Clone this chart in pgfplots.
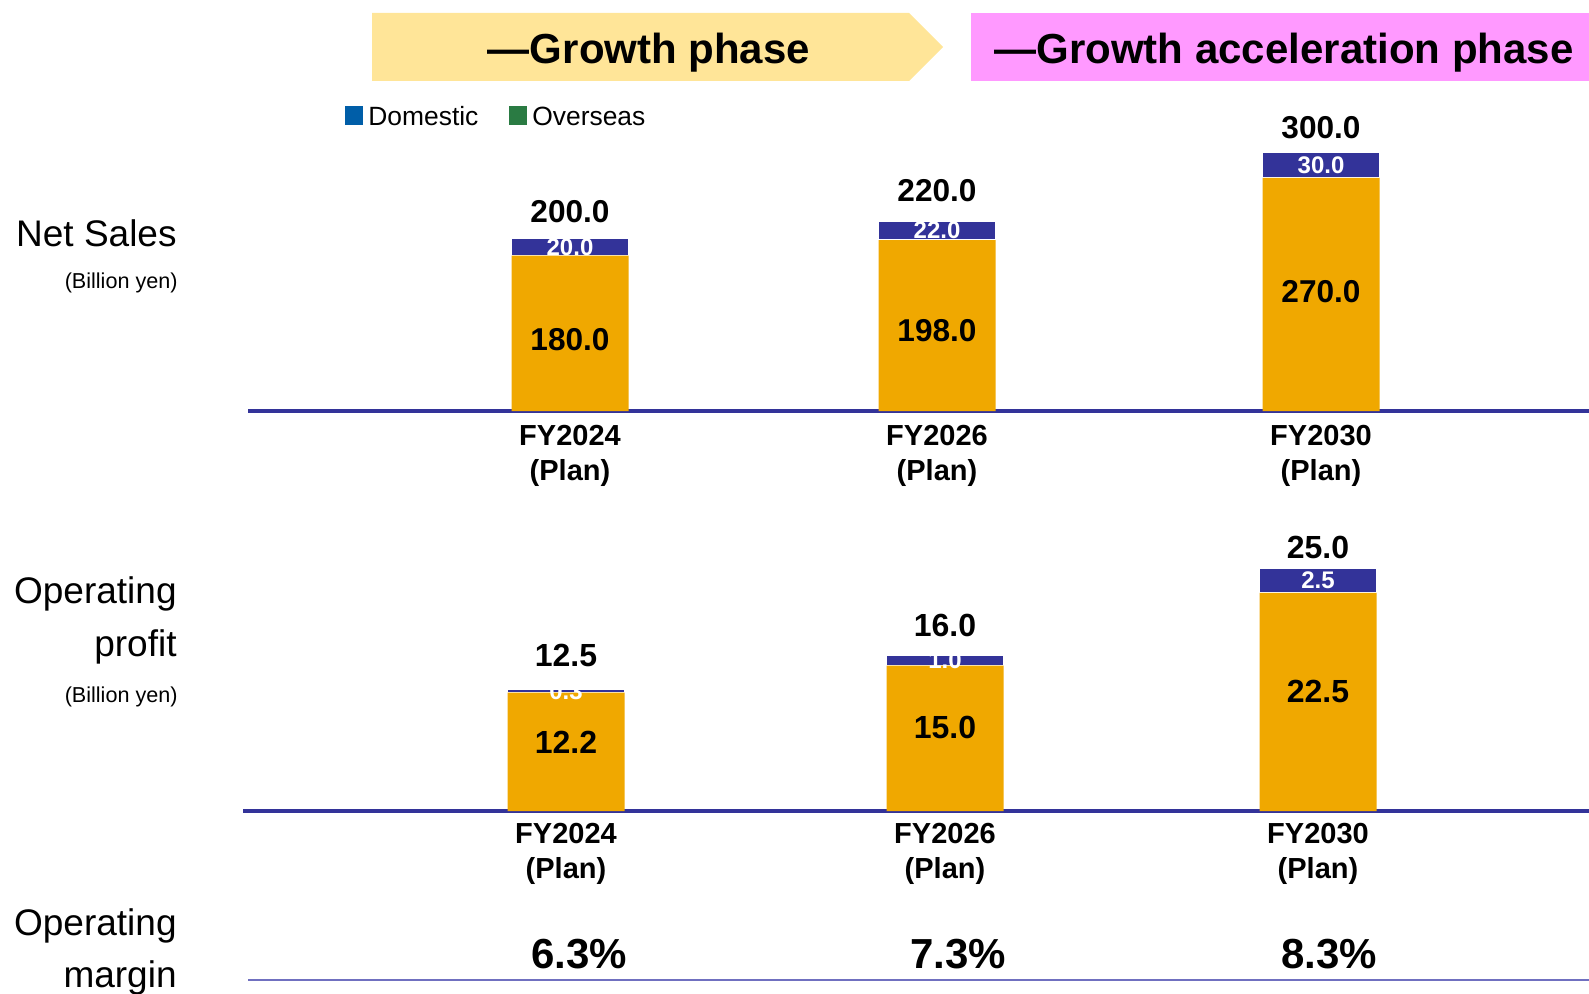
\documentclass[border=0pt]{standalone}
\usepackage{pgfplots}
\usepackage{pgfplotstable}
\pgfplotsset{compat=1.18}
\usepackage{fontspec}
\setmainfont{Liberation Sans}
\definecolor{barorange}{HTML}{F0A800}
\definecolor{barnavy}{HTML}{333399}
\definecolor{legblue}{HTML}{005EA8}
\definecolor{leggreen}{HTML}{2A7B43}
\definecolor{banyellow}{HTML}{FFE598}
\definecolor{banpink}{HTML}{FF99FF}
\definecolor{marginline}{HTML}{7070C0}

\pgfplotstableread{
x s1 s2 total
570 180 20 200.0
937 198 22 220.0
1321 270 30 300.0
}\salesdata
\pgfplotstableread{
x yin lin ytop ltop ytot ltot
570 83 180.0 190 20.0 230.5 200.0
937 92.6 198.0 209.5 22.0 255.4 220.0
1321 138 270.0 285 30.0 328.2 300.0
}\saleslabels
\pgfplotstableread{
x s1 s2 total
566 12.2 0.3 12.5
945 15.0 1.0 16.0
1318 22.5 2.5 25.0
}\profitdata
\pgfplotstableread{
x yin lin ytop ltop ytot ltot
566 7.1 12.2 12.35 0.3 16.0 12.5
945 8.6 15.0 15.5 1.0 19.1 16.0
1318 12.3 22.5 23.75 2.5 27.2 25.0
}\profitlabels
\pgfplotstableread{
x y m
579 0.325 6.3
958 0.325 7.3
1329 0.325 8.3
}\margindata

\pgfplotsset{
  labelaxis/.style={scale only axis, axis lines=none, xtick=\empty, ytick=\empty, clip=false},
  lbl/.style={draw=none, mark=none, nodes near coords, point meta=explicit symbolic,
    nodes near coords style={anchor=center, inner sep=0pt, #1}},
}

\begin{document}
\begin{tikzpicture}
\useasboundingbox (0,0) rectangle (794.5pt,496.5pt);
% banners
\fill[banyellow] (186pt,456pt) -- (454.5pt,456pt) -- (471.5pt,473pt) -- (454.5pt,490pt) -- (186pt,490pt) -- cycle;
\node[font=\bfseries\fontsize{21}{25}\selectfont] at (324.5pt,470pt) {—Growth phase};
\fill[banpink] (485.5pt,456pt) rectangle (794.5pt,490pt);
\node[font=\bfseries\fontsize{21}{25}\selectfont] at (642pt,470pt) {—Growth acceleration phase};
% legend
\fill[legblue] (172.5pt,434pt) rectangle (181.5pt,443.5pt);
\node[anchor=west, inner sep=0pt, font=\fontsize{13.2}{15}\selectfont] at (184pt,438.5pt) {Domestic};
\fill[leggreen] (254.5pt,434pt) rectangle (263.5pt,443.5pt);
\node[anchor=west, inner sep=0pt, font=\fontsize{13.2}{15}\selectfont] at (266pt,438.5pt) {Overseas};
% left labels
\node[anchor=east, inner sep=0pt, font=\fontsize{18.5}{22}\selectfont] at (88.5pt,380pt) {Net Sales};
\node[anchor=east, inner sep=0pt, font=\fontsize{10.8}{13}\selectfont] at (89pt,355pt) {(Billion yen)};
\node[anchor=east, inner sep=0pt, font=\fontsize{18.5}{22}\selectfont] at (88.5pt,199.5pt) {Operating};
\node[anchor=east, inner sep=0pt, font=\fontsize{18.5}{22}\selectfont] at (88.5pt,173pt) {profit};
\node[anchor=east, inner sep=0pt, font=\fontsize{10.8}{13}\selectfont] at (89pt,148pt) {(Billion yen)};
\node[anchor=east, inner sep=0pt, font=\fontsize{18.5}{22}\selectfont] at (88.5pt,33.5pt) {Operating};
\node[anchor=east, inner sep=0pt, font=\fontsize{18.5}{22}\selectfont] at (88.5pt,7.5pt) {margin};

% Net sales
\begin{axis}[
  at={(124pt,291pt)}, anchor=south west,
  scale only axis, width=670.5pt, height=142.5pt,
  xmin=248, xmax=1589, ymin=0, ymax=330,
  ybar stacked, bar width=117,
  axis x line=bottom, axis y line=none,
  x axis line style={-, draw=barnavy, line width=2pt},
  xtick={570,937,1321}, major tick length=0pt,
  xticklabels={{FY2024\\(Plan)},{FY2026\\(Plan)},{FY2030\\(Plan)}},
  xticklabel style={font=\bfseries\fontsize{14.5}{17.5}\selectfont, align=center, text=black, yshift=-3.5pt},
  clip=false,
]
\addplot[fill=barorange, draw=none] table[x=x, y=s1] {\salesdata};
\addplot[fill=barnavy, draw=white, line width=0.6pt] table[x=x, y=s2] {\salesdata};
\end{axis}
\begin{axis}[labelaxis,
  at={(124pt,291pt)}, anchor=south west,
  width=670.5pt, height=142.5pt,
  xmin=248, xmax=1589, ymin=0, ymax=330]
\addplot[lbl={font=\bfseries\fontsize{15.8}{18}\selectfont, text=black}] table[x=x, y=yin, meta=lin] {\saleslabels};
\addplot[lbl={font=\bfseries\fontsize{12}{14}\selectfont, text=white}] table[x=x, y=ytop, meta=ltop] {\saleslabels};
\addplot[lbl={font=\bfseries\fontsize{15.8}{18}\selectfont, text=black}] table[x=x, y=ytot, meta=ltot] {\saleslabels};
\end{axis}

% Operating profit
\begin{axis}[
  at={(121.5pt,91pt)}, anchor=south west,
  scale only axis, width=673pt, height=135.8pt,
  xmin=243, xmax=1589, ymin=0, ymax=28,
  ybar stacked, bar width=117,
  axis x line=bottom, axis y line=none,
  x axis line style={-, draw=barnavy, line width=2pt},
  xtick={566,945,1318}, major tick length=0pt,
  xticklabels={{FY2024\\(Plan)},{FY2026\\(Plan)},{FY2030\\(Plan)}},
  xticklabel style={font=\bfseries\fontsize{14.5}{17.5}\selectfont, align=center, text=black, yshift=-2.5pt},
  clip=false,
]
\addplot[fill=barorange, draw=none] table[x=x, y=s1] {\profitdata};
\addplot[fill=barnavy, draw=white, line width=0.6pt] table[x=x, y=s2] {\profitdata};
\end{axis}
\begin{axis}[labelaxis,
  at={(121.5pt,91pt)}, anchor=south west,
  width=673pt, height=135.8pt,
  xmin=243, xmax=1589, ymin=0, ymax=28]
\addplot[lbl={font=\bfseries\fontsize{16}{18}\selectfont, text=black}] table[x=x, y=yin, meta=lin] {\profitlabels};
\addplot[lbl={font=\bfseries\fontsize{12}{14}\selectfont, text=white}] table[x=x, y=ytop, meta=ltop] {\profitlabels};
\addplot[lbl={font=\bfseries\fontsize{16}{18}\selectfont, text=black}] table[x=x, y=ytot, meta=ltot] {\profitlabels};
\end{axis}

% Operating margin
\begin{axis}[
  at={(124pt,6.5pt)}, anchor=south west,
  scale only axis, width=670.5pt, height=40pt,
  xmin=248, xmax=1589, ymin=0, ymax=1,
  axis x line=bottom, axis y line=none,
  x axis line style={-, draw=marginline, line width=1pt},
  xtick=\empty, clip=false,
]
\addplot[draw=none, mark=none,
  nodes near coords={\pgfmathprintnumber[fixed,fixed zerofill,precision=1,assume math mode=true]{\pgfplotspointmeta}\%},
  point meta=explicit,
  nodes near coords style={anchor=center, font=\bfseries\fontsize{21}{24}\selectfont, text=black}]
  table[x=x, y=y, meta=m] {\margindata};
\end{axis}
\end{tikzpicture}
\end{document}
